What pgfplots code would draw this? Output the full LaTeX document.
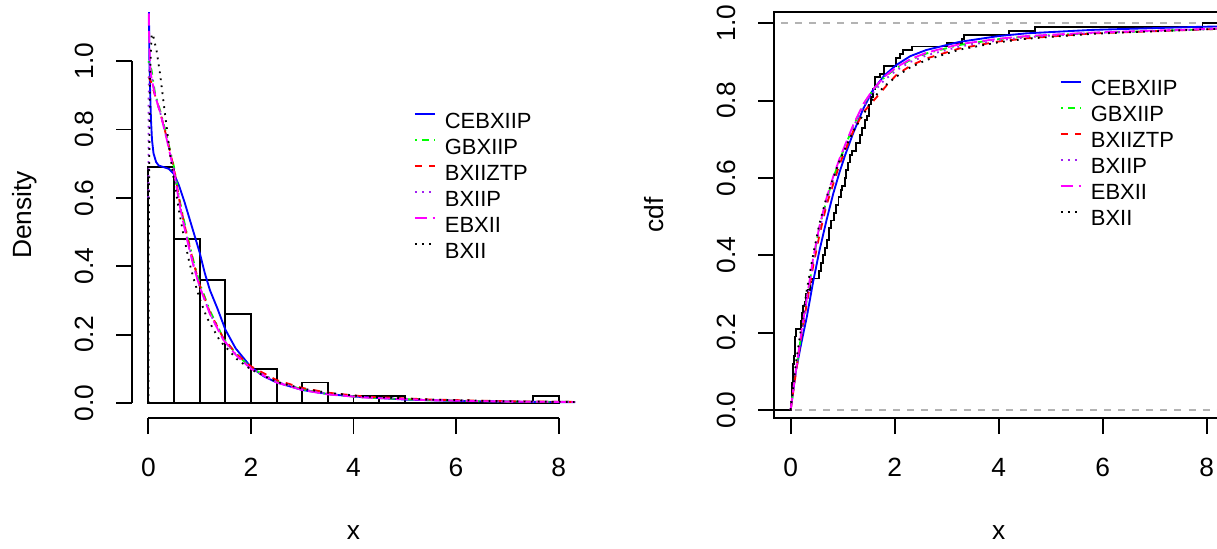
\documentclass[border=0pt]{standalone}
\usepackage{fontspec}
\setmainfont{Liberation Sans}
\usepackage{pgfplots}
\pgfplotsset{compat=1.18}

\definecolor{rgreen}{RGB}{0,255,0}
\definecolor{rpurple}{RGB}{160,32,240}
\definecolor{rmagenta}{RGB}{255,0,255}
\definecolor{gray70}{RGB}{179,179,179}

% R line types
\tikzset{
  lty1/.style={solid},
  lty2/.style={dash pattern=on 4pt off 4pt},
  lty3/.style={dash pattern=on 1pt off 3pt},
  lty4/.style={dash pattern=on 1pt off 3pt on 4pt off 3pt},
  lty5/.style={dash pattern=on 7pt off 3pt},
}

\pgfplotsset{
  rstyle/.style={
    scale only axis,
    height=8.12cm,
    clip mode=individual,
    tick align=outside,
    major tick length=0.32cm,
    tick pos=left,
    every tick/.style={black, line width=1.05pt},
    /pgf/number format/assume math mode=true,
    tick label style={font=\fontsize{15}{18}\selectfont, inner sep=0pt},
    xtick={0,2,4,6,8},
    ytick={0,0.2,0.4,0.6,0.8,1},
    yticklabel style={/pgf/number format/fixed, /pgf/number format/fixed zerofill, /pgf/number format/precision=1},
    xticklabel style={anchor=base, yshift=-0.846cm},
    yticklabel style={xshift=-0.448cm, rotate=90, anchor=base},
    every axis x label/.style={at={(axis description cs:0.5,-0.2998)}, anchor=base,
      font=\fontsize{15}{18}\selectfont, inner sep=0pt},
    legend cell align=left,
    legend style={draw=none, fill=none, inner sep=0pt, outer sep=0pt,
      anchor=north west, font=\fontsize{12.5}{15}\selectfont,
      row sep=0.08cm, column sep=0.18cm,
      nodes={inner sep=0pt, text height=0.34cm, text depth=0.1cm}},
    legend image code/.code={\draw[line width=1.05pt,#1] (0cm,0.16cm) -- (0.4cm,0.16cm);},
    every axis plot/.append style={line width=1.05pt},
  },
}

\begin{document}
\begin{tikzpicture}

% ---------------- left: histogram + densities ----------------
\begin{axis}[rstyle,
  at={(2.64cm,2.60cm)}, anchor=south west, width=8.86cm,
  xmin=-0.32, xmax=8.32, ymin=-0.044, ymax=1.144,
  axis line style={draw=none},
  every axis y label/.style={at={(axis description cs:-0.2273,0.5)}, anchor=base, rotate=90,
    font=\fontsize{15}{18}\selectfont, inner sep=0pt},
  xlabel={x}, ylabel={Density},
  legend style={at={(0.6366,0.7552)}},
]
\addplot[ybar interval, draw=black, fill=none, forget plot] coordinates {
  (0,0.69) (0.5,0.48) (1,0.36) (1.5,0.26) (2,0.10) (2.5,0) (3,0.06) (3.5,0)
  (4,0.02) (4.5,0.02) (5,0) (5.5,0) (6,0) (6.5,0) (7,0) (7.5,0.02) (8,0)};

\addplot[blue, lty1] coordinates {
  (0.001,1.6) (0.01,1.15) (0.02,1.0) (0.03,0.93) (0.05,0.83) (0.07,0.77)
  (0.1,0.73) (0.15,0.705) (0.2,0.695) (0.3,0.69) (0.4,0.685) (0.5,0.67)
  (0.6,0.635) (0.7,0.59) (0.8,0.54) (0.9,0.49) (1.0,0.44) (1.1,0.38)
  (1.2,0.33) (1.35,0.275) (1.5,0.215) (1.7,0.16) (2.0,0.105) (2.25,0.078)
  (2.5,0.06) (3.0,0.038) (3.5,0.026) (4.0,0.019) (5.0,0.01) (6.0,0.006)
  (7.0,0.004) (8.32,0.002)};
\addlegendentry{CEBXIIP}
\addplot[rgreen, lty4] coordinates {
  (0,1.0) (0.06,0.975) (0.13,0.905) (0.23,0.855) (0.36,0.78) (0.42,0.74)
  (0.5,0.69) (0.62,0.585) (0.75,0.495) (0.88,0.415) (1.0,0.35) (1.2,0.27)
  (1.46,0.19) (1.72,0.142) (2.0,0.103) (2.5,0.062) (3.0,0.04) (3.5,0.026)
  (4.2,0.016) (5.5,0.008) (7,0.004) (8.32,0.003)};
\addlegendentry{GBXIIP}
\addplot[red, lty2] coordinates {
  (0,0.955) (0.05,0.94) (0.13,0.9) (0.23,0.85) (0.36,0.775) (0.5,0.685)
  (0.62,0.58) (0.75,0.49) (0.88,0.41) (1.0,0.345) (1.2,0.265) (1.46,0.19)
  (1.72,0.143) (2.0,0.107) (2.5,0.067) (3.0,0.044) (3.5,0.03) (4.2,0.019)
  (5.5,0.01) (7,0.005) (8.32,0.003)};
\addlegendentry{BXIIZTP}
\addplot[rpurple, lty3] coordinates {
  (0,0.6) (0.005,0.9) (0.02,1.0) (0.05,0.97) (0.13,0.9) (0.23,0.85)
  (0.36,0.775) (0.5,0.68) (0.62,0.575) (0.75,0.485) (0.88,0.405) (1.0,0.34)
  (1.2,0.262) (1.46,0.186) (1.72,0.139) (2.0,0.102) (2.5,0.062) (3.0,0.04)
  (3.5,0.027) (4.2,0.017) (5.5,0.009) (7,0.004) (8.32,0.003)};
\addlegendentry{BXIIP}
\addplot[rmagenta, lty5] coordinates {
  (0.0005,1.5) (0.01,1.1) (0.03,0.99) (0.06,0.95) (0.13,0.9) (0.23,0.85)
  (0.36,0.77) (0.5,0.675) (0.62,0.57) (0.75,0.48) (0.88,0.4) (1.0,0.34)
  (1.2,0.26) (1.46,0.185) (1.72,0.138) (2.0,0.1) (2.5,0.06) (3.0,0.038)
  (3.5,0.025) (4.2,0.016) (5.5,0.008) (7,0.004) (8.32,0.003)};
\addlegendentry{EBXII}
\addplot[black, lty3] coordinates {
  (0,0) (0.01,0.6) (0.03,0.95) (0.064,1.08) (0.1,1.07) (0.16,1.03)
  (0.23,0.96) (0.32,0.85) (0.42,0.73) (0.5,0.65) (0.6,0.56) (0.68,0.495)
  (0.8,0.41) (0.88,0.365) (1.0,0.305) (1.14,0.25) (1.39,0.183) (1.72,0.129)
  (2.0,0.098) (2.5,0.062) (3.0,0.042) (3.5,0.03) (4.2,0.019) (5.5,0.01)
  (7,0.005) (8.32,0.003)};
\addlegendentry{BXII}

\draw[line width=1.05pt] (axis cs:0,-0.044) -- (axis cs:8,-0.044);
\draw[line width=1.05pt] (axis cs:-0.32,0) -- (axis cs:-0.32,1);
\end{axis}

% ---------------- right: ecdf + fitted cdfs ----------------
\begin{axis}[rstyle,
  at={(15.48cm,2.60cm)}, anchor=south west, width=8.986cm,
  xmin=-0.32, xmax=8.32, ymin=-0.0207, ymax=1.0292,
  axis line style={black, line width=1.05pt},
  every axis y label/.style={at={(axis description cs:-0.2464,0.5)}, anchor=base, rotate=90,
    font=\fontsize{15}{18}\selectfont, inner sep=0pt},
  xlabel={x}, ylabel={cdf},
  legend style={at={(0.6366,0.8357)}},
]
\addplot[gray70, lty2, forget plot] coordinates {(-1,0) (9,0)};
\addplot[gray70, lty2, forget plot] coordinates {(-1,1) (9,1)};

\addplot[const plot, black, line width=1.1pt, forget plot] coordinates {
  (-0.5,0) (0.01,0.02) (0.02,0.04) (0.03,0.07) (0.04,0.10) (0.05,0.12)
  (0.06,0.14) (0.08,0.17) (0.09,0.19) (0.10,0.21) (0.20,0.23) (0.22,0.25)
  (0.24,0.27) (0.27,0.28) (0.30,0.30) (0.34,0.31) (0.38,0.33) (0.43,0.34)
  (0.54,0.36) (0.58,0.38) (0.62,0.40) (0.66,0.42) (0.70,0.44) (0.74,0.47)
  (0.78,0.49) (0.83,0.51) (0.87,0.53) (0.92,0.55) (0.97,0.57) (0.99,0.58)
  (1.04,0.60) (1.07,0.62) (1.11,0.64) (1.15,0.66) (1.18,0.67) (1.25,0.69)
  (1.33,0.71) (1.38,0.73) (1.43,0.75) (1.46,0.76) (1.51,0.79) (1.55,0.81)
  (1.58,0.83) (1.62,0.86) (1.72,0.87) (1.79,0.89) (2.03,0.91) (2.10,0.92)
  (2.16,0.93) (2.34,0.94) (3.01,0.95) (3.30,0.96) (3.33,0.97) (4.19,0.98)
  (4.69,0.99) (7.92,1.00) (8.6,1.00)};

\addplot[blue, lty1] coordinates {
  (0,0) (0.1,0.1) (0.2,0.17) (0.31,0.24) (0.43,0.33) (0.55,0.41) (0.69,0.491)
  (0.82,0.56) (0.94,0.615) (1.05,0.66) (1.2,0.715) (1.4,0.78) (1.58,0.827)
  (1.8,0.865) (2.03,0.892) (2.3,0.915) (2.61,0.931) (3.25,0.952) (4.0,0.967)
  (4.53,0.974) (5.81,0.983) (7.9,0.991) (8.32,0.992)};
\addlegendentry{CEBXIIP}
\addplot[rgreen, lty4] coordinates {
  (0,0) (0.05,0.05) (0.1,0.1) (0.21,0.2) (0.31,0.284) (0.43,0.385)
  (0.55,0.47) (0.69,0.543) (0.82,0.6) (0.94,0.646) (1.2,0.733) (1.4,0.79)
  (1.58,0.827) (1.8,0.86) (2.03,0.884) (2.3,0.905) (2.61,0.922) (3.25,0.944)
  (4.0,0.959) (4.53,0.966) (5.81,0.975) (7.9,0.984) (8.32,0.986)};
\addlegendentry{GBXIIP}
\addplot[red, lty2] coordinates {
  (0,0) (0.05,0.048) (0.1,0.095) (0.21,0.195) (0.31,0.275) (0.43,0.37)
  (0.55,0.45) (0.69,0.53) (0.82,0.585) (0.94,0.635) (1.2,0.72) (1.4,0.77)
  (1.66,0.81) (1.85,0.84) (2.03,0.866) (2.3,0.89) (2.61,0.909) (3.25,0.935)
  (4.0,0.953) (4.53,0.961) (5.81,0.974) (7.9,0.984) (8.32,0.986)};
\addlegendentry{BXIIZTP}
\addplot[rpurple, lty3] coordinates {
  (0,0) (0.05,0.05) (0.1,0.1) (0.21,0.2) (0.31,0.282) (0.43,0.382)
  (0.55,0.465) (0.69,0.54) (0.82,0.597) (0.94,0.643) (1.2,0.73) (1.4,0.785)
  (1.58,0.82) (1.8,0.853) (2.03,0.878) (2.3,0.9) (2.61,0.917) (3.25,0.94)
  (4.0,0.956) (4.53,0.964) (5.81,0.975) (7.9,0.984) (8.32,0.986)};
\addlegendentry{BXIIP}
\addplot[rmagenta, lty5] coordinates {
  (0,0) (0.05,0.052) (0.1,0.102) (0.21,0.205) (0.31,0.288) (0.43,0.39)
  (0.55,0.473) (0.69,0.548) (0.82,0.604) (0.94,0.65) (1.2,0.736) (1.4,0.792)
  (1.58,0.828) (1.8,0.862) (2.03,0.886) (2.3,0.907) (2.61,0.924) (3.25,0.946)
  (4.0,0.96) (4.53,0.967) (5.81,0.976) (7.9,0.985) (8.32,0.987)};
\addlegendentry{EBXII}
\addplot[black, lty3] coordinates {
  (0,0) (0.05,0.06) (0.1,0.12) (0.21,0.22) (0.31,0.31) (0.43,0.40)
  (0.55,0.48) (0.69,0.55) (0.82,0.6) (0.94,0.645) (1.2,0.72) (1.4,0.765)
  (1.58,0.805) (1.8,0.837) (2.03,0.862) (2.3,0.886) (2.61,0.905) (3.25,0.932)
  (4.0,0.951) (4.53,0.96) (5.81,0.973) (7.9,0.984) (8.32,0.986)};
\addlegendentry{BXII}
\end{axis}

\pgfresetboundingbox
\useasboundingbox (0,0) rectangle (24.34,10.96);
\end{tikzpicture}
\end{document}
